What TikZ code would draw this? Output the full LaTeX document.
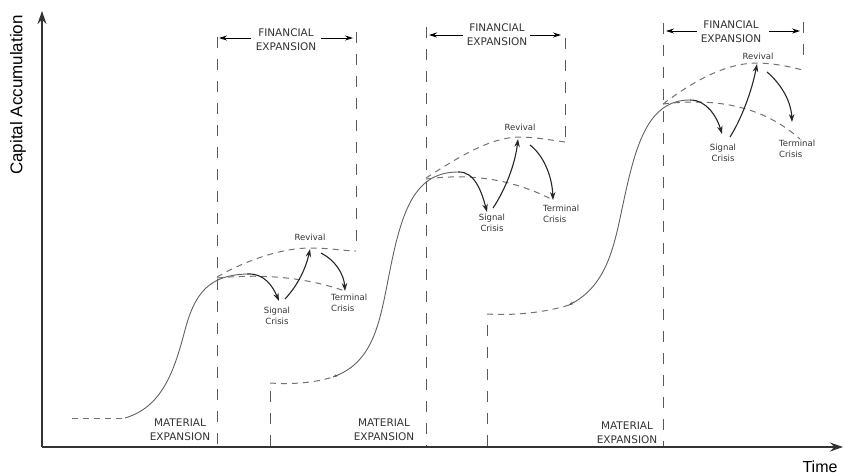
\documentclass[tikz,border=0pt]{standalone}
\usepackage{fontspec}
\setmainfont{DejaVu Sans}
\newfontfamily\axisfont{Liberation Sans}
\usetikzlibrary{arrows.meta}
\begin{document}
\begin{tikzpicture}[x=1pt,y=-1pt,
  vdash/.style={draw=black!65, line width=1pt, dash pattern=on 11pt off 11pt},
  cdash/.style={draw=black!55, line width=1pt, dash pattern=on 6pt off 5pt},
  scurve/.style={draw=black!62, line width=0.9pt},
  crisisarrow/.style={draw=black!85, line width=1.1pt, -{Stealth[length=8pt,width=5.5pt]}},
  tinyarrow/.style={draw=black!62, line width=0.8pt, -{Stealth[length=4pt,width=3pt]}},
  spanarrow/.style={draw=black, line width=0.8pt, -{Stealth[length=8pt,width=5pt]}},
  axisline/.style={draw=black!80, line width=1.7pt, -{Stealth[length=13pt,width=9pt]}},
  biglabel/.style={font=\fontsize{10.5}{14}\selectfont, align=center, text=black!80, inner sep=0pt},
  smalllabel/.style={font=\fontsize{8.5}{11}\selectfont, align=center, text=black!80, inner sep=0pt},
]
\useasboundingbox (0,0) rectangle (843,475);

% axes
\coordinate (O) at (42,447);
\coordinate (ytop) at (42,11);
\coordinate (xend) at (843,447);
\draw[axisline] (O) -- (ytop);
\draw[axisline] (O) -- (xend);
\node[font=\axisfont\fontsize{17}{20}\selectfont, rotate=90, inner sep=0pt] (ylab) at (18,95) {Capital Accumulation};
\node[font=\axisfont\fontsize{16}{19}\selectfont, inner sep=0pt] (xlab) at (820,467) {Time};

% ---------- cycle 1 ----------
\coordinate (b1lt) at (217,37);
\coordinate (b1lb) at (217,446);
\coordinate (b1rt) at (356,32);
\coordinate (b1rb) at (356,251);
\draw[vdash] (b1lt) -- (b1lb);
\draw[vdash] (b1rt) -- (b1rb);
\node[biglabel] (fin1) at (286,40) {FINANCIAL\\EXPANSION};
\coordinate (f1l) at (219,38);
\coordinate (f1r) at (353,38);
\draw[spanarrow] (fin1.west |- f1l) ++(-5,0) -- (f1l);
\draw[spanarrow] (fin1.east |- f1r) ++(5,0) -- (f1r);
\node[biglabel] (mat1) at (180,430) {MATERIAL\\EXPANSION};

\coordinate (s1) at (125,418);
\coordinate (p1) at (247,274);
\draw[cdash] (72,418) -- (s1);
\draw[scurve] (s1) .. controls (162,407) and (174,372) .. (185,330) .. controls (195,292) and (210,275) .. (p1);
\coordinate (sig1) at (279,301);
\coordinate (rev1s) at (285,299);
\coordinate (rev1) at (310,249);
\coordinate (ter1s) at (321,253);
\coordinate (ter1) at (345,291);
\draw[cdash] (217,277) .. controls (250,258) and (285,248) .. (310,248) .. controls (330,248) and (345,251) .. (b1rb);
\draw[cdash] (217,278) .. controls (270,273) and (310,279) .. (ter1);
\draw[crisisarrow] (p1) .. controls (265,273) and (273,287) .. (sig1);
\draw[crisisarrow] (rev1s) .. controls (298,285) and (306,268) .. (rev1);
\draw[crisisarrow] (ter1s) .. controls (335,260) and (344,274) .. (ter1);
\node[smalllabel] (rv1) at (310,237) {Revival};
\node[smalllabel] (sc1) at (277,316) {Signal\\Crisis};
\node[smalllabel, align=left, anchor=north west] (tc1) at (331,294) {Terminal\\Crisis};

% ---------- cycle 2 ----------
\coordinate (b2lt) at (426,27);
\coordinate (b2lb) at (426,446);
\coordinate (b2rt) at (565,38);
\coordinate (b2rb) at (565,142);
\draw[vdash] (b2lt) -- (b2lb);
\draw[vdash] (b2rt) -- (b2rb);
\node[biglabel] (fin2) at (497,35) {FINANCIAL\\EXPANSION};
\coordinate (f2l) at (429,35);
\coordinate (f2r) at (561,35);
\draw[spanarrow] (fin2.west |- f2l) ++(-4,0) -- (f2l);
\draw[spanarrow] (fin2.east |- f2r) ++(3,0) -- (f2r);
\node[biglabel] (mat2) at (384,430) {MATERIAL\\EXPANSION};

\coordinate (m2b) at (270,446);
\coordinate (m2c) at (270,383);
\coordinate (s2) at (333,377);
\draw[vdash] (m2b) -- (m2c);
\draw[cdash] (m2c) .. controls (300,385) and (320,381) .. (s2);
\coordinate (p2) at (458,172);
\draw[scurve] (s2) .. controls (375,362) and (380,320) .. (390,270) .. controls (402,210) and (415,172) .. (p2);
\draw[tinyarrow] (338,375) -- (s2);
\coordinate (sig2) at (487,212);
\coordinate (rev2s) at (493,208);
\coordinate (rev2) at (518,139);
\coordinate (ter2s) at (530,145);
\coordinate (ter2) at (553,200);
\draw[cdash] (426,178) .. controls (460,156) and (490,138) .. (518,137) .. controls (535,137) and (550,140) .. (b2rb);
\draw[cdash] (426,179) .. controls (480,172) and (520,183) .. (ter2);
\draw[crisisarrow] (p2) .. controls (475,171) and (482,193) .. (sig2);
\draw[crisisarrow] (rev2s) .. controls (505,190) and (515,165) .. (rev2);
\draw[crisisarrow] (ter2s) .. controls (543,155) and (552,175) .. (ter2);
\node[smalllabel] (rv2) at (520,127) {Revival};
\node[smalllabel] (sc2) at (492,223) {Signal\\Crisis};
\node[smalllabel, align=left, anchor=north west] (tc2) at (543,205) {Terminal\\Crisis};

% ---------- cycle 3 ----------
\coordinate (b3lt) at (663,23);
\coordinate (b3lb) at (663,446);
\coordinate (b3rt) at (803,22);
\coordinate (b3rb) at (803,58);
\draw[vdash] (b3lt) -- (b3lb);
\draw[vdash] (b3rt) -- (b3rb);
\node[biglabel] (fin3) at (731,32) {FINANCIAL\\EXPANSION};
\coordinate (f3l) at (666,31);
\coordinate (f3r) at (800,31);
\draw[spanarrow] (fin3.west |- f3l) ++(-4,0) -- (f3l);
\draw[spanarrow] (fin3.east |- f3r) ++(8,0) -- (f3r);
\node[biglabel] (mat3) at (627,433) {MATERIAL\\EXPANSION};

\coordinate (m3b) at (487,446);
\coordinate (m3c) at (487,314);
\coordinate (s3) at (569,305);
\draw[vdash] (m3b) -- (m3c);
\draw[cdash] (m3c) .. controls (520,316) and (550,311) .. (s3);
\coordinate (p3) at (690,100);
\draw[scurve] (s3) .. controls (610,285) and (615,240) .. (625,195) .. controls (637,140) and (650,100) .. (p3);
\draw[tinyarrow] (574,302) -- (s3);
\coordinate (sig3) at (722,134);
\coordinate (rev3s) at (730,137);
\coordinate (rev3) at (757,64);
\coordinate (ter3s) at (767,72);
\coordinate (ter3) at (792,122);
\draw[cdash] (663,104) .. controls (695,80) and (725,64) .. (755,63) .. controls (775,63) and (790,67) .. (803,70);
\draw[cdash] (663,104) .. controls (720,97) and (765,108) .. (800,139);
\draw[crisisarrow] (p3) .. controls (707,100) and (717,117) .. (sig3);
\draw[crisisarrow] (rev3s) .. controls (742,118) and (752,90) .. (rev3);
\draw[crisisarrow] (ter3s) .. controls (780,83) and (791,100) .. (ter3);
\node[smalllabel] (rv3) at (758,56) {Revival};
\node[smalllabel] (sc3) at (723,153) {Signal\\Crisis};
\node[smalllabel, align=left, anchor=north west] (tc3) at (779,140) {Terminal\\Crisis};
\end{tikzpicture}
\end{document}
